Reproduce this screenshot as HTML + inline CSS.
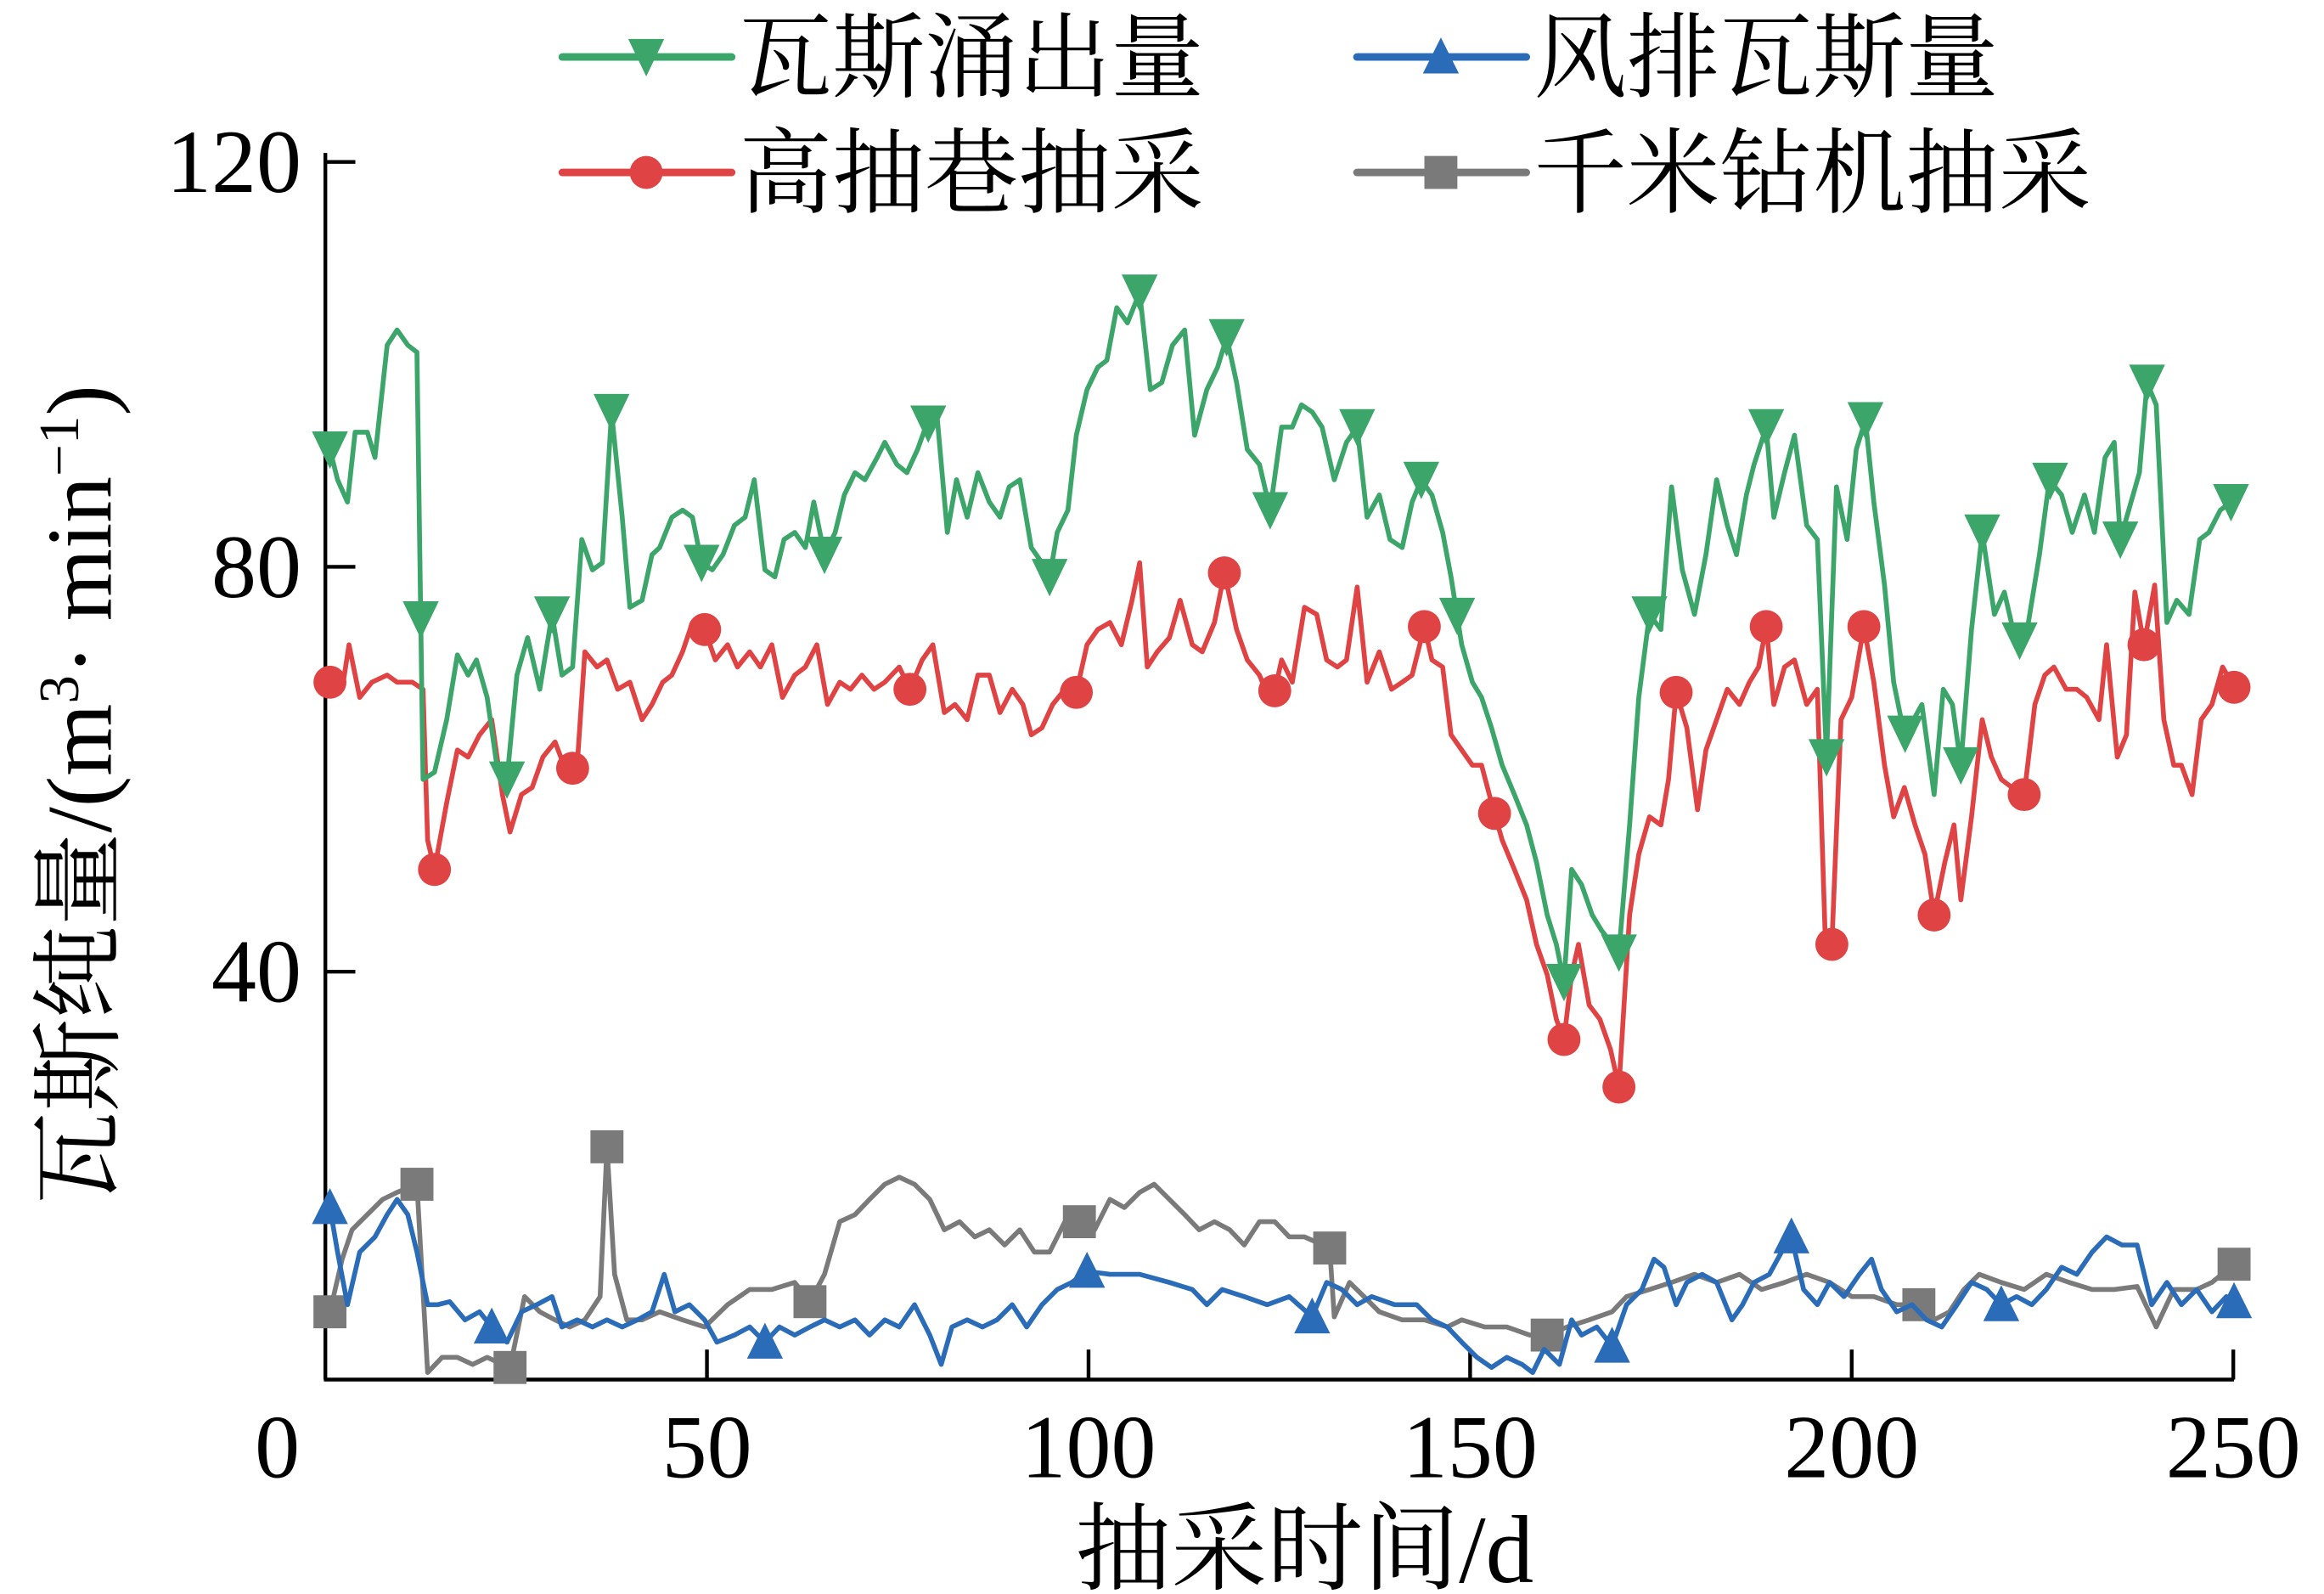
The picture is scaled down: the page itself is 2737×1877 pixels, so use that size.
<!DOCTYPE html>
<html><head><meta charset="utf-8"><style>
html,body{margin:0;padding:0;background:#fff;}
svg{display:block;}
text{font-family:"Liberation Serif","Noto Serif CJK SC",serif;fill:#000;}
</style></head><body>
<svg id="chart" width="2737" height="1877" viewBox="0 0 1550 1063" preserveAspectRatio="none" xmlns="http://www.w3.org/2000/svg">
<g id="axes"></g>
<g id="series"></g>
<g id="legend"></g>
</svg>
<script>
// ---- data ----
const xTicks=[0,50,100,150,200,250];
const yTicks=[40,80,120];
const greenDays=[0.6,1.6,2.9,3.9,5.5,6.5,8.1,9.4,10.8,12.0,12.8,14.3,15.9,17.3,18.7,19.8,21.2,22.6,23.8,25.1,26.5,28.1,29.7,31.0,32.4,33.6,35.0,36.3,37.5,38.9,39.9,41.5,42.8,43.8,45.4,46.8,48.1,49.3,50.7,52.1,53.6,55.0,56.2,57.6,58.9,60.1,61.5,62.9,64.0,65.4,66.8,68.0,69.4,70.7,72.3,73.3,74.9,76.2,77.6,78.8,80.2,81.5,82.7,84.1,85.5,87.0,88.4,89.6,91.0,92.5,93.9,94.9,95.9,97.3,98.4,99.8,101.2,102.4,103.7,105.1,106.7,108.1,109.6,111.0,112.6,113.9,115.5,116.9,118.1,119.4,120.8,122.4,123.8,125.3,126.7,127.9,129.3,130.6,132.2,133.8,135.2,136.5,138.1,139.5,141.1,142.4,143.6,145.0,146.4,147.5,148.9,150.3,151.5,152.8,154.2,155.8,157.4,158.7,160.1,161.3,162.3,163.3,164.6,166.0,167.2,168.6,169.5,170.9,172.1,173.5,175.0,176.4,177.8,179.4,180.9,182.3,183.7,184.9,186.2,187.2,188.8,189.8,191.2,192.5,194.1,195.5,196.7,198.0,199.4,200.6,201.8,202.9,204.3,205.5,206.9,208.1,209.2,210.8,212.0,213.2,214.3,215.7,217.1,218.7,220.0,221.6,223.0,224.6,225.9,227.5,228.9,230.5,231.8,233.2,234.4,235.2,236.3,237.7,238.7,239.9,241.3,242.6,244.2,245.6,246.8,248.3,249.7];
const greenVals=[91.6,88.6,86.4,93.3,93.3,90.8,101.9,103.4,101.9,101.2,59.0,59.7,64.9,71.3,69.3,70.8,67.1,59.7,59.0,69.3,73.0,67.9,75.3,69.3,70.1,82.7,79.7,80.4,95.3,84.9,76.0,76.7,81.2,81.9,84.9,85.6,84.9,80.4,79.7,81.2,84.1,84.9,88.6,79.7,79.0,82.7,83.4,81.9,86.4,81.2,83.4,87.1,89.3,88.6,90.8,92.3,90.1,89.3,91.6,94.1,94.5,83.4,88.6,84.9,89.3,86.4,84.9,87.9,88.6,81.9,80.4,79.0,83.4,85.6,93.0,97.5,99.7,100.4,105.6,104.1,107.1,97.5,98.2,101.9,103.4,93.0,97.5,99.7,102.7,98.2,91.6,90.1,85.6,93.8,93.8,96.0,95.3,93.8,88.6,92.3,93.8,84.9,87.1,82.7,81.9,86.4,88.6,87.1,83.4,79.0,72.3,68.6,67.1,64.1,60.4,57.5,54.5,50.8,45.6,42.7,39.0,50.1,48.6,45.6,44.1,42.7,41.9,54.5,67.1,75.3,73.8,87.9,79.7,75.3,81.2,88.6,84.1,81.2,87.1,90.1,93.8,84.9,89.3,93.0,84.1,82.7,61.2,87.9,82.7,91.6,94.5,86.4,78.2,68.6,63.4,64.9,66.4,57.5,67.9,66.4,60.4,73.8,83.4,75.3,77.5,72.3,73.8,81.2,88.6,87.1,83.4,87.1,83.4,90.8,92.3,82.7,85.6,89.3,98.2,96.0,74.5,76.7,75.3,82.7,83.4,85.6,86.4];
const greenMarkers=[0.6,12.5,23.8,29.7,37.5,49.3,65.4,79.0,94.9,106.7,118.1,123.8,135.2,143.6,148.3,162.3,169.5,173.5,188.8,196.7,201.8,207.0,214.3,217.1,222.0,226.0,235.2,238.7,249.7];
const redDays=[0.6,2.2,3.1,4.5,6.1,8.1,9.4,11.4,12.8,13.4,14.3,15.9,17.3,18.7,20.2,21.8,23.2,24.2,25.7,27.1,28.5,30.1,31.6,33.0,34.0,35.6,36.9,38.3,39.9,41.5,42.8,44.2,45.4,46.8,48.1,49.7,51.1,52.7,54.0,55.6,57.0,58.5,59.9,61.5,62.9,64.4,65.8,67.4,68.8,70.3,71.9,73.3,75.2,76.6,78.2,79.6,81.1,82.5,84.1,85.5,87.0,88.4,90.0,91.4,92.5,93.9,95.3,96.9,98.4,99.8,101.2,102.8,104.3,105.7,106.7,107.7,109.0,110.6,112.0,113.6,114.9,116.5,117.8,119.4,120.8,122.4,124.0,125.3,126.7,128.3,129.9,131.2,132.6,133.8,135.2,136.5,138.1,139.7,141.1,142.4,144.0,145.0,146.4,147.5,148.9,150.3,151.5,152.8,154.2,155.8,157.4,158.7,160.1,161.3,162.3,163.3,164.2,165.6,167.0,168.4,169.5,170.9,172.1,173.5,175.0,176.0,177.0,178.4,179.8,180.9,182.3,183.7,185.3,186.6,187.8,188.8,189.8,191.2,192.5,194.1,195.5,196.5,197.4,198.6,200.0,201.6,202.9,204.3,205.5,206.9,208.3,209.6,210.8,212.2,213.4,214.3,215.7,217.1,218.3,219.6,221.0,222.6,224.0,225.3,226.5,228.1,229.5,230.8,232.4,233.4,234.8,236.0,237.1,238.3,239.7,240.9,242.2,243.2,244.6,245.8,247.2,248.6,250.1];
const redVals=[68.6,67.9,72.3,67.1,68.6,69.3,68.6,68.6,67.9,53.0,50.1,56.7,61.9,61.2,63.4,64.9,57.5,53.8,57.5,58.2,61.2,62.7,59.7,60.4,71.6,70.1,70.8,67.9,68.6,64.9,66.4,68.6,69.3,71.6,74.5,73.8,70.8,72.3,70.1,71.6,70.1,72.3,67.1,69.3,70.1,72.3,66.4,68.6,67.9,69.3,67.9,68.6,70.1,67.9,70.8,72.3,65.6,66.4,64.9,69.3,69.3,65.6,67.9,66.4,63.4,64.1,66.4,67.9,67.6,72.3,73.8,74.5,72.3,76.7,80.4,70.1,71.6,73.0,76.7,72.3,71.6,74.5,79.4,73.8,70.8,69.3,66.4,70.8,68.6,76.0,75.3,70.8,70.1,70.8,78.0,68.6,71.6,67.9,68.6,69.3,74.1,70.8,70.1,63.4,61.9,60.4,60.4,56.7,53.0,50.1,47.1,42.7,39.7,35.3,33.3,39.7,42.7,36.7,35.3,32.3,28.6,45.6,51.6,55.3,54.5,59.0,67.6,64.1,56.0,61.9,64.9,67.9,66.4,68.6,70.1,74.1,66.4,70.1,70.8,66.4,67.9,44.1,42.7,64.9,67.1,74.1,68.6,60.4,55.3,58.2,54.5,51.6,45.6,50.8,54.5,47.1,55.3,64.9,61.2,59.0,58.2,57.5,66.4,69.3,70.1,67.9,67.9,67.1,64.9,72.3,61.2,63.4,77.5,72.3,78.2,64.9,60.4,60.4,57.5,64.9,66.4,70.1,68.1];
const redMarkers=[0.6,14.3,32.4,49.7,76.6,98.4,117.8,124.4,144.0,153.2,162.3,169.5,177.0,188.8,197.4,201.6,210.8,222.6,238.3,250.1];
const blueDays=[0.6,1.6,2.9,4.5,6.5,8.1,9.4,10.8,12.0,13.4,14.7,16.3,18.3,20.2,21.8,23.8,25.7,27.7,29.7,31.0,33.0,35.0,36.9,38.9,40.9,42.8,44.4,45.8,47.7,49.7,51.3,53.6,55.6,57.6,59.5,61.5,63.5,65.4,67.4,69.4,71.3,73.3,75.2,77.2,79.2,80.7,82.1,84.1,86.1,88.0,90.0,91.9,93.9,95.9,97.8,99.8,102.8,106.7,110.6,113.6,115.5,117.5,120.4,123.4,126.3,129.3,131.2,133.2,135.2,137.1,140.1,143.0,145.0,147.0,148.9,150.9,152.8,154.8,156.8,158.2,159.7,161.7,163.3,164.6,166.6,168.6,170.5,172.5,174.1,175.4,177.0,178.4,180.4,182.3,184.3,185.7,187.2,189.2,190.8,192.1,193.7,195.5,197.1,199.0,201.0,202.6,203.9,205.9,207.9,209.8,211.8,213.8,215.7,217.7,219.6,221.6,223.6,225.5,227.5,229.5,231.5,233.4,235.4,237.4,239.3,241.3,243.2,245.2,247.2,249.1,250.1];
const blueVals=[16.7,12.3,7.1,12.3,13.8,16.0,17.5,16.0,12.3,7.1,7.1,7.4,5.6,6.4,4.9,3.4,6.4,7.1,7.9,4.9,5.6,4.9,5.6,4.9,5.6,6.4,10.1,6.4,7.1,5.6,3.4,4.1,4.9,3.4,4.9,4.1,4.9,5.6,4.9,5.6,4.1,5.6,4.9,7.1,4.1,1.2,4.9,5.6,4.9,5.6,7.1,4.9,7.1,8.6,9.3,10.4,10.1,10.1,9.3,8.6,7.1,8.6,7.9,7.1,7.9,5.9,9.3,8.6,7.1,7.9,7.1,7.1,5.6,4.9,3.4,1.9,0.9,1.9,1.2,0.4,2.7,1.2,5.6,4.1,4.9,3.0,7.1,8.6,11.6,10.8,7.1,9.3,10.1,9.3,5.6,7.1,9.3,10.1,12.3,13.8,8.6,7.1,9.3,7.9,10.1,11.6,8.6,6.4,7.1,5.6,4.9,7.1,9.3,8.6,7.1,7.9,7.1,8.6,10.8,10.1,12.3,13.8,13.0,13.0,7.1,9.3,7.1,8.6,6.4,7.9,7.4];
const blueMarkers=[0.6,21.8,57.6,99.8,129.3,168.6,192.1,219.6,250.1];
const grayDays=[0.6,2.2,3.5,5.5,7.5,9.4,12.0,13.4,15.3,17.3,19.3,21.2,23.2,24.2,26.1,28.1,30.1,32.0,34.0,36.0,36.9,37.9,39.5,41.5,43.8,46.8,49.7,52.7,55.6,58.5,61.5,63.5,65.4,67.4,69.4,71.3,73.3,75.2,77.2,79.2,81.1,83.1,85.1,87.0,89.0,91.0,92.9,94.9,96.9,98.8,100.8,102.8,104.7,106.7,108.6,110.6,112.6,114.5,116.5,118.5,120.4,122.4,124.4,126.3,128.3,131.6,132.2,134.2,136.1,138.1,141.1,144.0,147.0,148.9,151.9,154.8,157.8,160.1,162.7,165.6,168.6,170.5,173.5,176.4,179.4,182.3,185.3,188.2,191.2,194.1,197.1,200.0,202.9,205.9,208.8,210.8,212.8,214.7,216.7,219.6,222.6,225.5,228.5,231.5,234.4,237.4,239.9,242.2,245.2,247.2,250.1];
const grayVals=[6.4,11.6,14.5,16.0,17.5,18.2,19.0,0.4,1.9,1.9,1.2,1.9,1.2,0.9,7.9,6.4,5.6,4.9,5.6,7.9,22.7,10.1,5.6,5.6,6.4,5.6,4.9,7.1,8.6,8.6,9.3,7.4,10.1,15.3,16.0,17.5,19.0,19.7,19.0,17.5,14.5,15.3,13.8,14.5,13.0,14.5,12.3,12.3,15.3,15.3,14.5,17.5,16.7,18.2,19.0,17.5,16.0,14.5,15.3,14.5,13.0,15.3,15.3,13.8,13.8,12.7,5.9,9.3,7.9,6.4,5.6,5.6,4.9,5.6,4.9,4.9,4.1,4.1,4.9,5.6,6.4,7.9,8.6,9.3,10.1,9.3,10.1,8.6,9.3,10.1,9.3,7.9,7.9,7.1,7.1,5.6,6.4,8.6,10.1,9.3,8.6,10.1,9.3,8.6,8.6,8.9,4.9,8.6,8.6,9.3,11.1];
const grayMarkers=[0.6,12.0,24.2,36.9,63.5,98.8,131.6,160.1,208.8,250.1];

// ---- axes ----
const X0=217,X1=1490,Y0=918,PXU=5.09,PYU=6.75;
const xs=d=>X0+d*PXU, ys=v=>Y0-v*PYU;
const NS="http://www.w3.org/2000/svg";
function mk(tag,attrs,parent){const e=document.createElementNS(NS,tag);for(const k in attrs)e.setAttribute(k,attrs[k]);parent.appendChild(e);return e;}
const axes=document.getElementById('axes');
let a=mk('line',{x1:X0,y1:102,x2:X0,y2:920,stroke:'#000','stroke-width':2.5},axes);

a=mk('line',{x1:X0-1,y1:920,x2:X1,y2:920,stroke:'#000','stroke-width':2.5},axes);

yTicks.forEach(v=>{
  const t=mk('line',{x1:X0,y1:ys(v),x2:X0+20,y2:ys(v),stroke:'#000','stroke-width':2.5},axes);
  
  const l=mk('text',{x:X0-16,y:ys(v)+20,'text-anchor':'end','font-size':60},axes);l.textContent=v;
  
});
xTicks.forEach(v=>{
  if(v>0){const t=mk('line',{x1:xs(v),y1:920,x2:xs(v),y2:900,stroke:'#000','stroke-width':2.5},axes);
  }
  const l=mk('text',{x:v===0?185:xs(v),y:985,'text-anchor':'middle','font-size':60},axes);l.textContent=v;
  
});
let tt=mk('text',{x:870,y:1055,'text-anchor':'middle','font-size':64},axes);tt.textContent='抽采时间/d';

tt=mk('text',{x:0,y:0,'text-anchor':'middle','font-size':62,transform:'translate(74,530) rotate(-90)'},axes);
tt.innerHTML='瓦斯纯量/(m<tspan font-size="38" dy="-22">3</tspan><tspan dy="22">· min</tspan><tspan font-size="38" dy="-22">−1</tspan><tspan dy="22">)</tspan>';


// ---- series ----
const sg=document.getElementById('series');
function interp(days,vals,d){for(let i=1;i<days.length;i++){if(d<=days[i]){const t=(d-days[i-1])/((days[i]-days[i-1])||1);return vals[i-1]+t*(vals[i]-vals[i-1]);}}return vals[vals.length-1];}
function marker(type,cx,cy,color,parent){
  let m;
  if(type==='tdown')m=mk('path',{d:`M${cx-12},${cy-12}L${cx+12},${cy-12}L${cx},${cy+13}Z`,fill:color},parent);
  else if(type==='tup')m=mk('path',{d:`M${cx-12},${cy+11}L${cx+12},${cy+11}L${cx},${cy-13}Z`,fill:color},parent);
  else if(type==='circle')m=mk('circle',{cx:cx,cy:cy,r:11,fill:color},parent);
  else m=mk('rect',{x:cx-11,y:cy-11,width:22,height:22,fill:color},parent);
  return m;
}
function drawSeries(name,days,vals,mks,color,type){
  const g=mk('g',{},sg);
  
  const p=mk('polyline',{points:days.map((d,i)=>xs(d)+','+ys(vals[i])).join(' '),fill:'none',stroke:color,'stroke-width':3.2,'stroke-linejoin':'round'},g);
  
  mks.forEach(d=>{const m=marker(type,xs(d),ys(interp(days,vals,d)),color,g);
    });
}
const GREEN='#3ca56a',RED='#e04343',BLUE='#2b6cb8',GRAY='#7a7a7a';
drawSeries('gray',grayDays,grayVals,grayMarkers,GRAY,'square');
drawSeries('blue',blueDays,blueVals,blueMarkers,BLUE,'tup');
drawSeries('red',redDays,redVals,redMarkers,RED,'circle');
drawSeries('green',greenDays,greenVals,greenMarkers,GREEN,'tdown');

// ---- legend ----
const lg=document.getElementById('legend');
const legendItems=[['瓦斯涌出量',GREEN,'tdown',375,38],['风排瓦斯量',BLUE,'tup',905,38],['高抽巷抽采',RED,'circle',375,115],['千米钻机抽采',GRAY,'square',905,115]];
legendItems.forEach(it=>{
  const g=mk('g',{},lg);
  
  mk('line',{x1:it[3],y1:it[4],x2:it[3]+113,y2:it[4],stroke:it[1],'stroke-width':5,'stroke-linecap':'round'},g);
  marker(it[2],it[3]+56,it[4],it[1],g);
  const t=mk('text',{x:it[3]+118,y:it[4]+22,'font-size':62},g);t.textContent=it[0];
});
</script>
</body></html>
